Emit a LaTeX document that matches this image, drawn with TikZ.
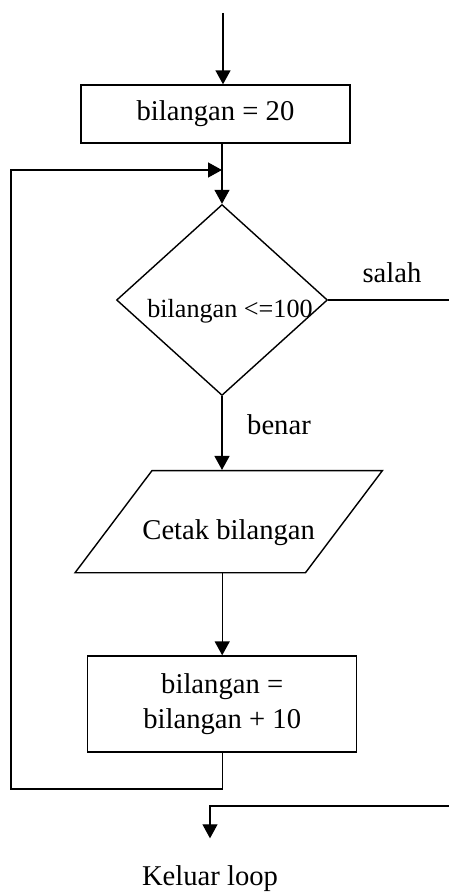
\documentclass[tikz,border=0pt]{standalone}
\usepackage{fontspec}
\setmainfont{Liberation Serif}
\usetikzlibrary{shapes.geometric,arrows.meta}
\begin{document}
\begin{tikzpicture}[->,>={Triangle[length=0.28cm,width=0.3cm]},x=0.02cm,y=-0.02cm,line width=0.8pt]
				\tikzstyle{proses} = [rectangle,draw,minimum width=5.38cm,inner sep=0pt,align=center,font=\fontsize{16.3}{19.8}\selectfont]
				\tikzstyle{keputusan} = [diamond,draw,minimum width=4.22cm,minimum height=3.82cm,inner sep=0pt,text height=0.8cm,text depth=0.09cm,font=\fontsize{14.9}{18}\selectfont]
				\tikzstyle{io} = [trapezium,draw,trapezium left angle=53,trapezium right angle=127,inner xsep=1.535cm,inner ysep=0.186cm,text height=1.2cm,text depth=0.47cm,font=\fontsize{16.3}{19.8}\selectfont]
				\tikzstyle{teks} = [inner sep=0pt,font=\fontsize{16.3}{19.8}\selectfont]
				
				\useasboundingbox (0,0) rectangle (449,892);
				
				\coordinate (mulai) at (223,13);
				\node[proses,minimum height=1.16cm] (b1) at (215.5,114) {bilangan = 20};
				\coordinate (gabung) at (222,170);
				\node[keputusan] (kond) at (222,300) {\makebox[0pt]{\hspace{0.32cm}bilangan <=100}};
				\node[io] (cetak) at (228.7,521.7) {\makebox[0pt]{Cetak bilangan}};
				\node[proses,minimum height=1.92cm] (b2) at (222.2,704) {bilangan =\\bilangan + 10};
				\coordinate (balik) at (11,789);
				\coordinate (salahujung) at (449,300);
				\coordinate (keluarujung) at (449,806);
				\node[teks] (salah) at (392,273) {salah};
				\node[teks] (benar) at (279,425) {benar};
				\node[teks] (keluar) at (210,879) {Keluar loop};
				
				\path (mulai) edge (mulai |- b1.north);
				\path (b1.south -| kond.north) edge (kond.north);
				\path (kond.south) edge (kond.south |- cetak.north);
				\path (cetak.south -| b2.north) edge (b2.north);
				\draw (b2.south) |- (balik) |- (gabung);
				\path[-] (kond.east) edge[line width=0.6pt] (salahujung);
				\draw[line width=0.6pt,shorten >=0.54cm] (keluarujung) -| (keluar.north);
			\end{tikzpicture}
\end{document}
